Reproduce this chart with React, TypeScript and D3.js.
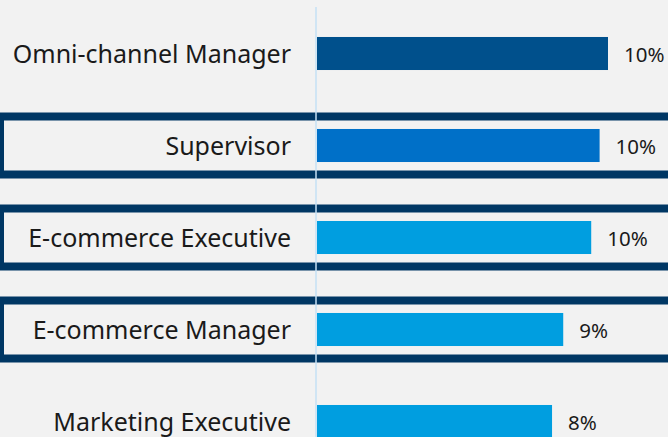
import React from "react";
import * as d3 from "d3";

const categories = [
  "Omni-channel Manager",
  "Supervisor",
  "E-commerce Executive",
  "E-commerce Manager",
  "Marketing Executive",
];
const values = [10.4, 10.1, 9.8, 8.8, 8.4];
const valueLabels = ["10%", "10%", "10%", "9%", "8%"];
const barColors = ["#00508c", "#0070c8", "#009ee0", "#009ee0", "#009ee0"];
const highlighted = ["Supervisor", "E-commerce Executive", "E-commerce Manager"];

const W = 668;
const H = 437;
const FONT = "'Noto Sans', 'Open Sans', sans-serif";

export default function App() {
  const y = d3
    .scaleBand<string>()
    .domain(categories)
    .range([7.5, 7.5 + 92 * categories.length])
    .paddingInner(0.641)
    .paddingOuter(0.3205);
  const x = d3.scaleLinear().domain([0, 10.4]).range([317, 608]);
  const bw = y.bandwidth();

  return (
    <svg
      width={W}
      height={H}
      style={{ position: "absolute", left: 0, top: 0, background: "#f2f2f2" }}
    >
      <rect x={0} y={0} width={W} height={H} fill="#f2f2f2" />
      {categories.map((c) =>
        highlighted.includes(c) ? (
          <rect
            key={"f" + c}
            x={0}
            y={(y(c) as number) + bw / 2 - 29}
            width={W + 20}
            height={58}
            fill="none"
            stroke="#003764"
            strokeWidth={8}
          />
        ) : null
      )}
      <line x1={316} x2={316} y1={7} y2={H} stroke="#c5e1f5" strokeWidth={1.5} />
      {categories.map((c, i) => {
        const yc = (y(c) as number) + bw / 2;
        return (
          <g key={c}>
            <rect
              x={x(0)}
              y={y(c)}
              width={x(values[i]) - x(0)}
              height={bw}
              fill={barColors[i]}
            />
            <text
              x={291}
              y={yc + 9}
              textAnchor="end"
              fontFamily={FONT}
              fontSize={25}
              fill="#1a1a1a"
            >
              {c}
            </text>
            <text
              x={x(values[i]) + 16}
              y={yc + 8}
              fontFamily={FONT}
              fontSize={20.5}
              fill="#1a1a1a"
            >
              {valueLabels[i]}
            </text>
          </g>
        );
      })}
    </svg>
  );
}
